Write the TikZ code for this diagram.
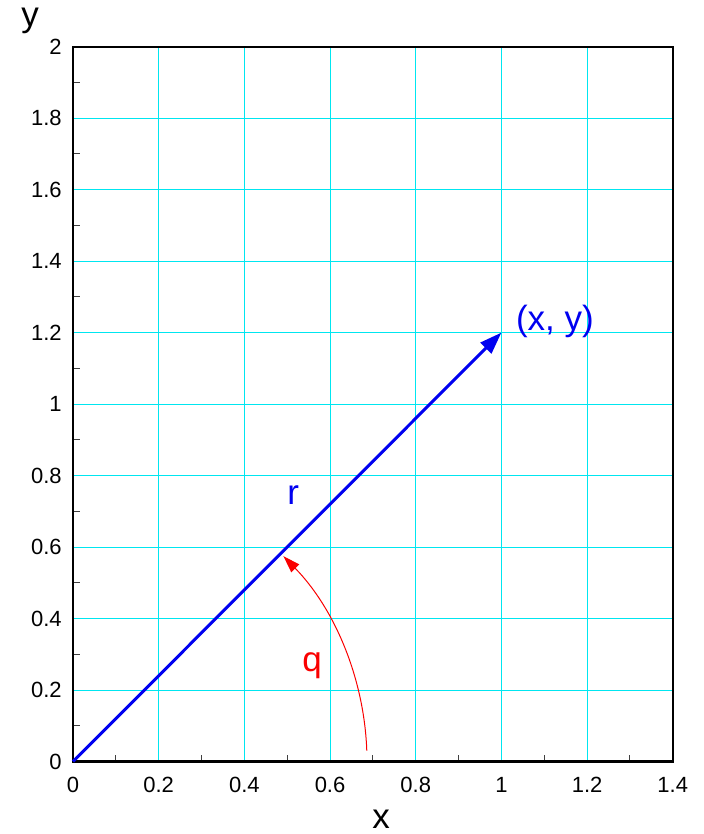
\documentclass[tikz,border=0pt]{standalone}
\usepackage{fontspec}
\setmainfont{Liberation Sans}
\usetikzlibrary{arrows.meta,positioning,calc}
\definecolor{gridcyan}{RGB}{0,230,240}
\definecolor{vecblue}{RGB}{0,0,240}
\definecolor{angred}{RGB}{250,0,0}
\tikzset{
  gridln/.style={draw=gridcyan, line width=0.5pt},
  frame/.style={draw=black, line width=1.1pt},
  tck/.style={draw=black!75, line width=0.5pt},
  ticklab/.style={font=\fontsize{11}{13}\selectfont, inner sep=0pt},
  axlab/.style={font=\fontsize{17.5}{19}\selectfont, inner sep=0pt},
  vec/.style={draw=vecblue, line width=1.5pt, -{Triangle[length=11pt, width=7.5pt]}},
  ang/.style={draw=angred, line width=0.5pt, -{Triangle[length=8.5pt, width=5.5pt]}},
  veclab/.style={font=\fontsize{17.5}{19}\selectfont, text=vecblue, inner sep=0pt},
}
\begin{document}
\begin{tikzpicture}[x=214.2pt, y=178.7pt]
    \useasboundingbox (-36.5pt,-36.25pt) rectangle (315.5pt,380.75pt);
    % grid
    \foreach \gx in {2,4,...,12} \draw[gridln] (\gx/10,0) -- (\gx/10,2);
    \foreach \gy in {2,4,...,18} \draw[gridln] (0,\gy/10) -- (1.4,\gy/10);
    % minor ticks
    \foreach \mx in {1,3,...,13} \draw[tck] (\mx/10,0) -- ++(0,3.5pt);
    \foreach \my in {1,3,...,19} \draw[tck] (0,\my/10) -- ++(3.5pt,0);
    \draw[frame] (0,0) rectangle (1.4,2);
    % tick labels
    \foreach \lx in {0,0.2,0.4,0.6,0.8,1,1.2,1.4}
      \node[ticklab] (xl\lx) at ([yshift=-11.9pt]\lx,0) {\lx};
    \foreach \ly in {0,0.2,0.4,0.6,0.8,1,1.2,1.4,1.6,1.8,2}
      \node[ticklab, anchor=east] (yl\ly) at ([xshift=-5.5pt]0,\ly) {\ly};
    \node[axlab] (xname) at (0.719,-0.162) {x};
    \node[axlab] (yname) at (-0.100,2.072) {y};
    % vector and angle
    \coordinate (orig) at (0,0);
    \coordinate (tip) at (1,1.2);
    \draw[vec] (orig) -- (tip);
    \node[veclab] (tiplab) at (1.125,1.232) {(x, y)};
    \node[veclab] (rlab) at (0.514,0.745) {r};
    \coordinate (qstart) at ($(orig)+(2.1:147pt)$);
    \draw[ang] (qstart) arc[start angle=2.1, end angle=44.3, radius=147pt];
    \node[veclab, text=angred] (qlab) at (0.558,0.268) {q};
\end{tikzpicture}
\end{document}
